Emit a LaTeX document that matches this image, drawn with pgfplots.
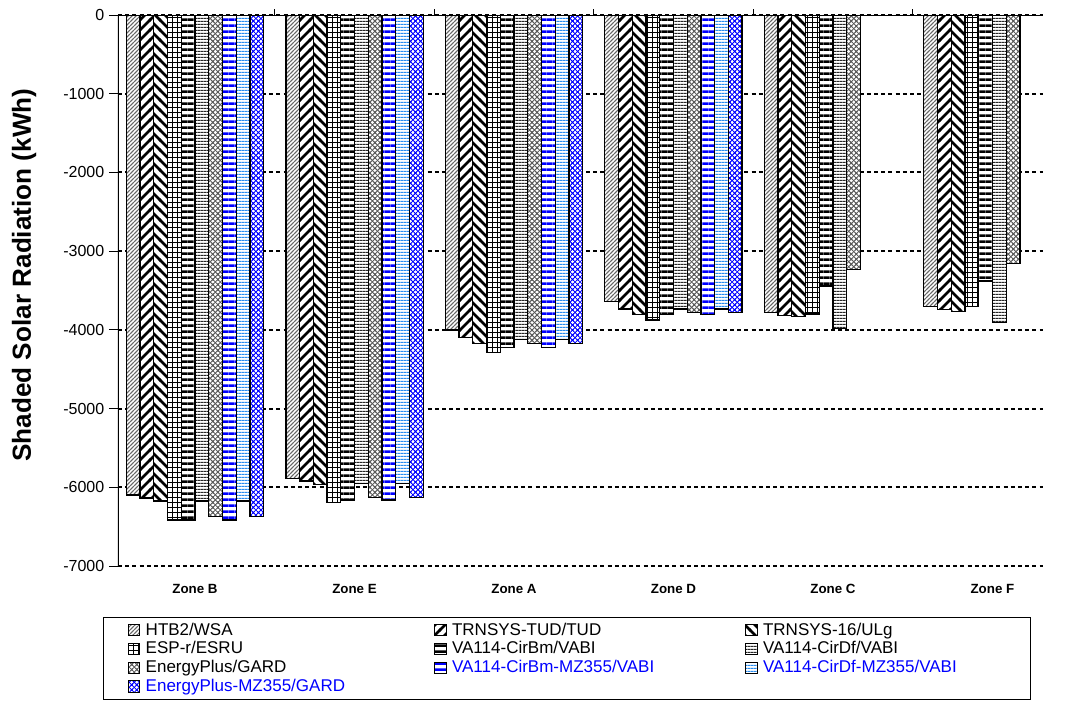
\documentclass[border=0pt]{standalone}
\usepackage{fontspec}
\setmainfont{Liberation Sans}
\usepackage{pgfplots}
\pgfplotsset{compat=1.18}
\usetikzlibrary{patterns}

% thick horizontal stripes
\pgfdeclarepatternformonly{thickhl}{\pgfqpoint{0pt}{0pt}}{\pgfqpoint{4.4pt}{4.4pt}}{\pgfqpoint{4.4pt}{4.4pt}}{%
 \pgfpathrectangle{\pgfqpoint{0pt}{0pt}}{\pgfqpoint{4.4pt}{2pt}}\pgfusepath{fill}}
% thin dense horizontal lines
\pgfdeclarepatternformonly{thinhl}{\pgfqpoint{0pt}{0pt}}{\pgfqpoint{2.4pt}{2.4pt}}{\pgfqpoint{2.4pt}{2.4pt}}{%
 \pgfpathrectangle{\pgfqpoint{0pt}{0pt}}{\pgfqpoint{2.4pt}{1pt}}\pgfusepath{fill}}
% thick NE diagonal
\pgfdeclarepatternformonly{thickne}{\pgfqpoint{-1pt}{-1pt}}{\pgfqpoint{8.5pt}{8.5pt}}{\pgfqpoint{7.5pt}{7.5pt}}{%
 \pgfsetlinewidth{2pt}\pgfpathmoveto{\pgfqpoint{-1pt}{-1pt}}\pgfpathlineto{\pgfqpoint{8.5pt}{8.5pt}}\pgfusepath{stroke}}
% thick NW diagonal
\pgfdeclarepatternformonly{thicknw}{\pgfqpoint{-1pt}{-1pt}}{\pgfqpoint{8.5pt}{8.5pt}}{\pgfqpoint{7.5pt}{7.5pt}}{%
 \pgfsetlinewidth{2pt}\pgfpathmoveto{\pgfqpoint{-1pt}{8.5pt}}\pgfpathlineto{\pgfqpoint{8.5pt}{-1pt}}\pgfusepath{stroke}}
% thin NE diagonal
\pgfdeclarepatternformonly{thinne}{\pgfqpoint{-1pt}{-1pt}}{\pgfqpoint{4pt}{4pt}}{\pgfqpoint{3pt}{3pt}}{%
 \pgfsetlinewidth{0.6pt}\pgfpathmoveto{\pgfqpoint{-1pt}{-1pt}}\pgfpathlineto{\pgfqpoint{4pt}{4pt}}\pgfusepath{stroke}}
% grid
\pgfdeclarepatternformonly{mygrid}{\pgfqpoint{0pt}{0pt}}{\pgfqpoint{3.7pt}{3.7pt}}{\pgfqpoint{3.7pt}{3.7pt}}{%
 \pgfpathrectangle{\pgfqpoint{0pt}{0pt}}{\pgfqpoint{3.7pt}{0.65pt}}%
 \pgfpathrectangle{\pgfqpoint{0pt}{0pt}}{\pgfqpoint{0.65pt}{3.7pt}}\pgfusepath{fill}}
% diagonal cross (checker-like)
\pgfdeclarepatternformonly{diagx}{\pgfqpoint{-1pt}{-1pt}}{\pgfqpoint{4.8pt}{4.8pt}}{\pgfqpoint{3.8pt}{3.8pt}}{%
 \pgfsetlinewidth{0.6pt}\pgfpathmoveto{\pgfqpoint{-1pt}{-1pt}}\pgfpathlineto{\pgfqpoint{4.8pt}{4.8pt}}%
 \pgfpathmoveto{\pgfqpoint{-1pt}{4.8pt}}\pgfpathlineto{\pgfqpoint{4.8pt}{-1pt}}\pgfusepath{stroke}}

\definecolor{mzblue}{RGB}{0,0,255}
\definecolor{skyb}{RGB}{40,140,240}

\begin{document}
\begin{tikzpicture}
\useasboundingbox (-88.5pt,-100.5pt) rectangle (711.75pt,424.5pt);
\begin{axis}[
  at={(0pt,0pt)}, anchor=south west,
  scale only axis, width=693.75pt, height=413.25pt,
  ymin=-7000, ymax=0,
  xmin=-0.483, xmax=5.317,
  ybar=0pt, bar width=10.3pt,
  xtick={0,1,2,3,4,5},
  xticklabels={Zone B,Zone E,Zone A,Zone D,Zone C,Zone F},
  xticklabel style={font=\bfseries\fontsize{10}{12}\selectfont, yshift=-3.5pt},
  major x tick style={draw=none},
  minor xtick={0.5,1.5,2.5,3.5,4.5},
  minor x tick style={black, line width=0.75pt},
  xtick pos=right, xticklabel pos=left,
  ytick pos=left,
  tick align=outside,
  major tick length=6.75pt, minor tick length=4.5pt,
  ytick={-7000,-6000,-5000,-4000,-3000,-2000,-1000,0},
  yticklabels={-7000,-6000,-5000,-4000,-3000,-2000,-1000,0},
  yticklabel style={font=\fontsize{12}{14}\selectfont},
  major y tick style={black, line width=0.75pt},
  ymajorgrids,
  major grid style={black, line width=1.4pt, dash pattern=on 3pt off 2.4pt},
  axis line style={draw=none},
  ylabel={Shaded Solar Radiation (kWh)},
  ylabel style={font=\bfseries\fontsize{19.6}{21}\selectfont, at={(axis description cs:-0.1016,0.528)}, anchor=center},
  legend columns=3,
  legend cell align=left,
  legend image code/.code={\draw[#1, line width=0.6pt] (0pt,-4.2pt) rectangle (8.4pt,4.2pt);},
  legend style={at={(axis description cs:-0.0162,-0.0926)}, anchor=north west,
    draw=black, line width=0.6pt, font=\fontsize{12.75}{14}\selectfont,
    inner xsep=18.5pt, inner ysep=2pt, row sep=-0.6pt,
    /tikz/every odd column/.append style={column sep=2.25pt},
    /tikz/every even column/.append style={column sep=0pt}},
]
\addplot[draw=black, line width=1pt, fill=white, postaction={pattern=thinne, pattern color=black!60}]
 coordinates {(0,-6099) (1,-5887) (2,-4003) (3,-3643) (4,-3782) (5,-3706)};
\addlegendentry{\makebox[214.5pt][l]{HTB2/WSA}}
\addplot[draw=black, line width=1pt, fill=white, postaction={pattern=thickne, pattern color=black}]
 coordinates {(0,-6134) (1,-5921) (2,-4100) (3,-3736) (4,-3817) (5,-3740)};
\addlegendentry{\makebox[218pt][l]{TRNSYS-TUD/TUD}}
\addplot[draw=black, line width=1pt, fill=white, postaction={pattern=thicknw, pattern color=black}]
 coordinates {(0,-6175) (1,-5963) (2,-4172) (3,-3803) (4,-3834) (5,-3770)};
\addlegendentry{\makebox[180pt][l]{TRNSYS-16/ULg}}
\addplot[draw=black, line width=1pt, fill=white, postaction={pattern=mygrid, pattern color=black}]
 coordinates {(0,-6417) (1,-6192) (2,-4286) (3,-3875) (4,-3800) (5,-3706)};
\addlegendentry{ESP-r/ESRU}
\addplot[draw=black, line width=1pt, fill=white, postaction={pattern=thickhl, pattern color=black}]
 coordinates {(0,-6417) (1,-6163) (2,-4223) (3,-3803) (4,-3443) (5,-3380)};
\addlegendentry{VA114-CirBm/VABI}
\addplot[draw=black, line width=1pt, fill=white, postaction={pattern=thinhl, pattern color=black!85}]
 coordinates {(0,-6175) (1,-5951) (2,-4121) (3,-3736) (4,-3981) (5,-3910)};
\addlegendentry{VA114-CirDf/VABI}
\addplot[draw=black, line width=1pt, fill=white, postaction={pattern=diagx, pattern color=black!65}]
 coordinates {(0,-6375) (1,-6129) (2,-4172) (3,-3782) (4,-3231) (5,-3155)};
\addlegendentry{EnergyPlus/GARD}
\addplot[draw=black, line width=1pt, fill=white, postaction={pattern=thickhl, pattern color=mzblue}]
 coordinates {(0,-6417) (1,-6163) (2,-4223) (3,-3803)};
\addlegendentry{\textcolor{mzblue}{VA114-CirBm-MZ355/VABI}}
\addplot[draw=black, line width=1pt, fill=white, postaction={pattern=thinhl, pattern color=skyb}]
 coordinates {(0,-6175) (1,-5951) (2,-4121) (3,-3736)};
\addlegendentry{\textcolor{mzblue}{VA114-CirDf-MZ355/VABI}}
\addplot[draw=black, line width=1pt, fill=white, postaction={pattern=diagx, pattern color=mzblue}]
 coordinates {(0,-6375) (1,-6129) (2,-4172) (3,-3782)};
\addlegendentry{\textcolor{mzblue}{EnergyPlus-MZ355/GARD}}
\draw[black, line width=1pt] (rel axis cs:0,0) -- (rel axis cs:0,1) -- (rel axis cs:1,1);
\end{axis}
\end{tikzpicture}
\end{document}
